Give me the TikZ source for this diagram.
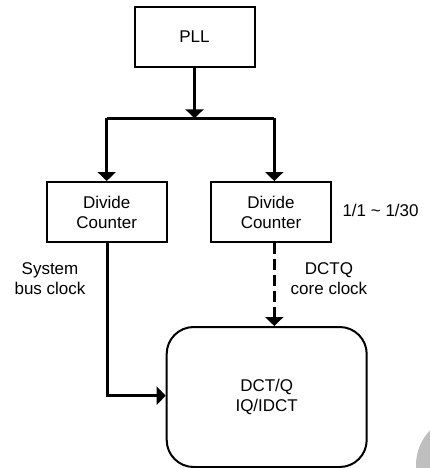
\documentclass[tikz,border=0pt]{standalone}
\usepackage{fontspec}
\setmainfont{Liberation Sans}
\usepackage{tikz}
\usetikzlibrary{arrows.meta,positioning,calc}
\tikzset{
  block/.style={draw, line width=2pt, align=center, minimum width=120pt,
                minimum height=60pt, inner sep=0pt},
  core/.style={draw, line width=2pt, rounded corners=27pt, align=center,
               minimum width=200pt, minimum height=140pt},
  arrow/.style={-{Triangle[width=18pt,length=9pt]}, line width=2.6pt},
  wire/.style={line width=2.6pt},
  lbl/.style={align=center},
}

\begin{document}
\begin{tikzpicture}[x=1pt, y=-1pt, font=\fontsize{17}{20}\selectfont]
  \useasboundingbox (0,0) rectangle (430,468);
  % grey blob in the corner
  \begin{scope}
    \clip (0,0) rectangle (430,468);
    \fill[black!25] (466,465) circle (50);
  \end{scope}

  % blocks
  \node[block] (pll)  at (194.5,37)  {PLL};
  \node[block] (divL) at (106.7,212) {Divide\\Counter};
  \node[block] (divR) at (271,212)   {Divide\\Counter};
  \node[core]  (dct)  at (266.7,397) {DCT/Q\\IQ/IDCT};

  % labels
  \node[anchor=west] (ratio) at (339,210) {1/1 \char`\~{} 1/30};
  \node[lbl] (sysclk) at (50,279) {System\\bus clock};
  \node[lbl] (coreclk) at (329,279) {DCTQ\\core clock};

  % split points
  \coordinate (split) at (pll.south |- 0,118.3);
  \coordinate (splitL) at (106.7,118.3);
  \coordinate (splitR) at (274.3,118.3);
  \coordinate (bend) at (107.3,395.7);

  % PLL -> counters
  \draw[arrow] (pll.south) -- (split);
  \draw[wire] (splitL) -- (splitR);
  \draw[arrow] (splitL) -- (splitL |- divL.north);
  \draw[arrow] (splitR) -- (splitR |- divR.north);

  % counters -> DCT/Q
  \draw[arrow] (divL.south -| bend) -- (bend) -- (bend -| dct.west);
  \draw[arrow, dash pattern=on 11pt off 5pt] (divR.south -| splitR) -- (splitR |- dct.north);
\end{tikzpicture}
\end{document}
